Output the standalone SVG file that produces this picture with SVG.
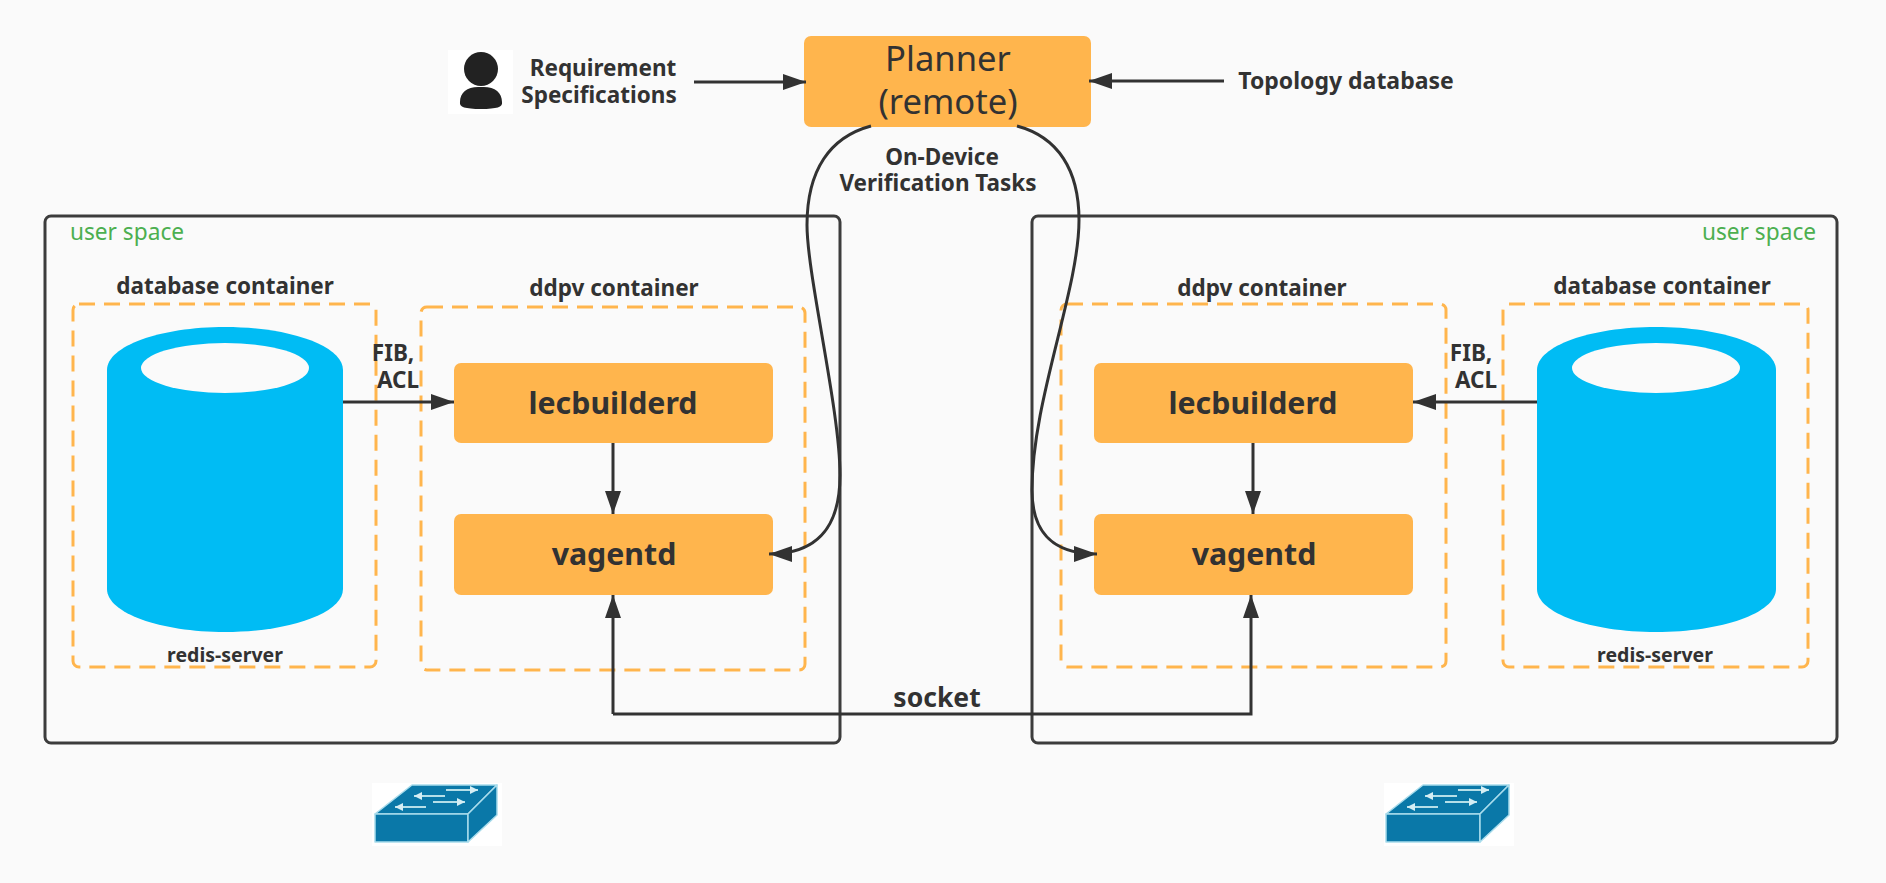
<svg xmlns="http://www.w3.org/2000/svg" width="1886" height="883" viewBox="0 0 1886 883">
<style>
text{font-family:"Noto Sans","Open Sans","Liberation Sans",sans-serif;fill:#323232;text-anchor:middle}
.b{font-weight:700;font-size:22.5px}
.t{font-weight:700;font-size:23px}
.s{font-weight:700;font-size:19.5px}
.box{fill:#ffb54d}
.big{font-weight:700;font-size:30.3px}
.pl{font-size:34.6px}
.us{fill:none;stroke:#3c3c3c;stroke-width:3}
.dash{fill:none;stroke:#ffb54d;stroke-width:3;stroke-dasharray:16 9}
.g{fill:#4caf50;font-size:22.7px}
.c{fill:none;stroke:#323232;stroke-width:3}
.cyl{fill:#00bcf4}
.hole{fill:#fafafa}
.bg{fill:#fff}
.ink{fill:#222}
.sw{fill:#0a78a8;stroke:#a8dcec;stroke-width:1.5;stroke-linejoin:round}
.ar{fill:none;stroke:#b5dfe8;stroke-width:2;marker-end:url(#t)}
</style>
<defs>
<marker id="a" markerUnits="userSpaceOnUse" markerWidth="24" markerHeight="18" refX="23" refY="8" orient="auto"><path d="M0 0L23 8L0 16z" fill="#323232"/></marker>
<marker id="t" markerUnits="userSpaceOnUse" markerWidth="9" markerHeight="8" refX="8" refY="4" orient="auto"><path d="M0 0L8 4L0 8z" fill="#d5eef4"/></marker>
</defs>
<rect width="1886" height="883" fill="#fafafa"/>
<g id="user-left"><rect class="us" x="45" y="216" width="795" height="527" rx="6"/><text class="g" x="127" y="240">user space</text></g>
<g id="user-right"><rect class="us" x="1032" y="216" width="805" height="527" rx="6"/><text class="g" x="1759" y="240">user space</text></g>
<g id="db-left"><rect class="dash" x="73" y="304" width="303" height="363" rx="6"/><text class="b" x="225" y="294">database container</text>
<path class="cyl" d="M107 370C107 346 160 327 225 327S343 346 343 370V589C343 613 290 632 225 632S107 613 107 589z"/><ellipse class="hole" cx="225" cy="368" rx="84" ry="25"/><text class="s" x="225" y="662">redis-server</text></g>
<g id="ddpv-left"><rect class="dash" x="421" y="307" width="384" height="363" rx="6"/><text class="b" x="614" y="296">ddpv container</text></g>
<g id="lec-left"><rect class="box" x="454" y="363" width="319" height="80" rx="7"/><text class="big" x="613" y="414">lecbuilderd</text></g>
<g id="va-left"><rect class="box" x="454" y="514" width="319" height="81" rx="7"/><text class="big" x="614" y="565">vagentd</text></g>
<g id="ddpv-right"><rect class="dash" x="1061" y="304" width="385" height="363" rx="6"/><text class="b" x="1262" y="296">ddpv container</text></g>
<g id="lec-right"><rect class="box" x="1094" y="363" width="319" height="80" rx="7"/><text class="big" x="1253" y="414">lecbuilderd</text></g>
<g id="va-right"><rect class="box" x="1094" y="514" width="319" height="81" rx="7"/><text class="big" x="1254" y="565">vagentd</text></g>
<g id="db-right"><rect class="dash" x="1503" y="304" width="305" height="363" rx="6"/><text class="b" x="1662" y="294">database container</text>
<path class="cyl" d="M1537 370C1537 346 1590 327 1656 327S1776 346 1776 370V589C1776 613 1722 632 1656 632S1537 613 1537 589z"/><ellipse class="hole" cx="1656" cy="368" rx="84" ry="25"/><text class="s" x="1655" y="662">redis-server</text></g>
<g id="planner"><rect class="box" x="804" y="36" width="287" height="91" rx="7"/><text class="pl" x="948" y="71">Planner</text><text class="pl" x="948" y="114">(remote)</text></g>
<g id="person"><rect class="bg" x="448" y="50" width="65" height="64"/><ellipse class="ink" cx="481" cy="69" rx="17" ry="17"/><path class="ink" d="M460 102C460 92 468 86 481 87C494 86 502 92 502 102C503 107 497 109 481 109S459 107 460 102z"/></g>
<g id="req"><text class="b" x="603" y="76">Requirement</text><text class="b" x="599" y="103">Specifications</text></g>
<text class="t" x="1346" y="89">Topology database</text>
<text class="b" x="942" y="165">On-Device</text><text class="b" x="938" y="191">Verification Tasks</text>
<text class="b" x="393" y="361">FIB,</text><text class="b" x="398" y="388">ACL</text>
<text class="b" x="1471" y="361">FIB,</text><text class="b" x="1476" y="388">ACL</text>
<text x="937" y="707" font-weight="700" font-size="26.5">socket</text>
<g id="switch-left"><rect class="bg" x="372" y="783" width="130" height="63"/><path class="sw" d="M375 814L412 785H497L468 814z"/><path class="sw" d="M375 814H468V842H375z"/><path class="sw" d="M468 814L497 785V815L468 842z"/><path class="ar" d="M446 790H478"/><path class="ar" d="M445 796H414"/><path class="ar" d="M433 802H465"/><path class="ar" d="M426 807H395"/></g>
<g id="switch-right"><rect class="bg" x="1384" y="783" width="130" height="63"/><path class="sw" d="M1386 814L1423 785H1509L1480 814z"/><path class="sw" d="M1386 814H1480V842H1386z"/><path class="sw" d="M1480 814L1509 785V815L1480 842z"/><path class="ar" d="M1458 790H1489"/><path class="ar" d="M1457 796H1425"/><path class="ar" d="M1445 802H1477"/><path class="ar" d="M1438 807H1407"/></g>
<g id="connectors">
<path class="c" marker-end="url(#a)" d="M694 82H806"/>
<path class="c" marker-end="url(#a)" d="M1224 81H1089"/>
<path class="c" marker-end="url(#a)" d="M343 402H454"/>
<path class="c" marker-end="url(#a)" d="M1537 402H1413"/>
<path class="c" marker-end="url(#a)" d="M613 443V514"/>
<path class="c" marker-end="url(#a)" d="M1253 443V514"/>
<path class="c" marker-end="url(#a)" d="M613 714V595"/>
<path class="c" marker-end="url(#a)" d="M613 714H1251V595"/>
<path class="c" marker-end="url(#a)" d="M871 126C830 137 807 170 807 225C807 275 840 410 840 475C840 530 815 554 769 554"/>
<path class="c" marker-end="url(#a)" d="M1017 126C1058 137 1079 170 1079 220C1079 290 1032 400 1032 490C1032 530 1050 554 1097 554"/>
</g>
</svg>
